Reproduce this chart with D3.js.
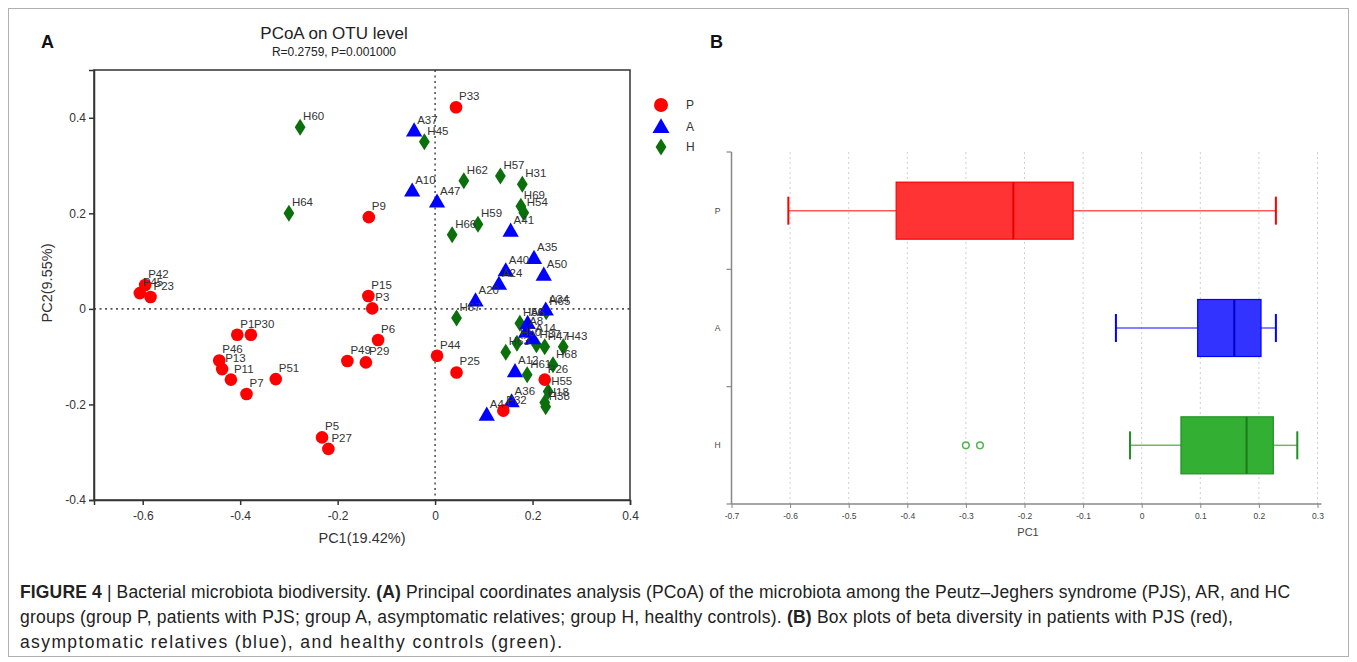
<!DOCTYPE html>
<html><head><meta charset="utf-8">
<script src="https://cdn.jsdelivr.net/npm/d3@7"></script>
<style>body{margin:0;background:#fff}svg{display:block;font-family:"Liberation Sans",Arial,sans-serif}</style>
</head><body>
<svg id="c" width="1357" height="662"></svg>
<script>
// ---------- Panel A data (PCoA) ----------
const pLabels = ["P33","P9","P42","P45","P23","P15","P3","P1","P30","P46","P13","P11","P7","P51","P5","P27","P49","P29","P6","P44","P25","P26","P32"];
const pX = [0.043,-0.136,-0.595,-0.606,-0.584,-0.137,-0.129,-0.406,-0.378,-0.443,-0.437,-0.419,-0.387,-0.327,-0.232,-0.219,-0.180,-0.142,-0.117,0.004,0.044,0.225,0.140];
const pY = [0.422,0.192,0.050,0.033,0.025,0.027,0.001,-0.054,-0.054,-0.108,-0.126,-0.148,-0.178,-0.147,-0.269,-0.293,-0.109,-0.112,-0.065,-0.098,-0.133,-0.148,-0.213];

const aLabels = ["A37","A10","A47","A41","A35","A40","A50","A24","A20","A34","A6","A8","A14","A12","A36","A44"];
const aX = [-0.043,-0.047,0.004,0.155,0.203,0.145,0.223,0.131,0.083,0.227,0.190,0.187,0.200,0.164,0.157,0.106];
const aY = [0.373,0.247,0.224,0.163,0.106,0.080,0.071,0.052,0.017,-0.002,-0.030,-0.048,-0.062,-0.131,-0.194,-0.222];

const hLabels = ["H60","H64","H45","H62","H57","H31","H69","H54","H59","H66","H67","H65","H56","H63","H50","H37","H47","H43","H68","H61","H55","H18","H38"];
const hX = [-0.277,-0.300,-0.022,0.059,0.134,0.179,0.176,0.182,0.088,0.035,0.044,0.228,0.174,0.145,0.168,0.208,0.225,0.263,0.242,0.189,0.232,0.225,0.227];
const hY = [0.380,0.200,0.350,0.268,0.278,0.261,0.215,0.201,0.177,0.155,-0.019,-0.006,-0.030,-0.091,-0.072,-0.075,-0.079,-0.079,-0.117,-0.138,-0.173,-0.196,-0.205];

const xTicksA = [-0.6,-0.4,-0.2,0,0.2,0.4];
const yTicksA = [-0.4,-0.2,0,0.2,0.4];

// ---------- Panel B data (box plots of PC1) ----------
const groups = ["P","A","H"];
const bMin = [-0.603,-0.044,-0.020];
const bQ1  = [-0.419,0.0955,0.067];
const bMed = [-0.219,0.158,0.179];
const bQ3  = [-0.117,0.2036,0.2246];
const bMax = [0.229,0.229,0.2655];
const hOutliers = [-0.300,-0.276];
const xTicksB = [-0.7,-0.6,-0.5,-0.4,-0.3,-0.2,-0.1,0,0.1,0.2,0.3];

const fmt = d => d===0 ? "0" : d3.format(".1f")(d).replace("\u2212","-");

const svg = d3.select("#c");

// figure border
svg.append("rect").attr("x",8.5).attr("y",8.5).attr("width",1340).attr("height",648)
  .attr("fill","none").attr("stroke","#b0b0b0").attr("stroke-width",1);

// ================= Panel A =================
const xA = d3.scaleLinear().domain([-0.7,0.4]).range([94,630]);
const yA = d3.scaleLinear().domain([-0.4,0.5]).range([500,70]);
const gA = svg.append("g");

gA.append("text").attr("x",41).attr("y",48).attr("font-size",18).attr("font-weight","bold").attr("fill","#111").text("A");
gA.append("text").attr("x",334).attr("y",39).attr("text-anchor","middle").attr("font-size",17).attr("fill","#222").text("PCoA on OTU level");
gA.append("text").attr("x",334).attr("y",56).attr("text-anchor","middle").attr("font-size",12).attr("fill","#222").text("R=0.2759, P=0.001000");

// zero lines
gA.append("line").attr("x1",xA(-0.7)).attr("x2",xA(0.4)).attr("y1",yA(0)).attr("y2",yA(0))
  .attr("stroke","#555").attr("stroke-width",1.6).attr("stroke-dasharray","2,3.5");
gA.append("line").attr("x1",xA(0)).attr("x2",xA(0)).attr("y1",yA(0.5)).attr("y2",yA(-0.4))
  .attr("stroke","#555").attr("stroke-width",1.6).attr("stroke-dasharray","2,3.5");

// frame
gA.append("rect").attr("x",94).attr("y",70).attr("width",536).attr("height",430)
  .attr("fill","none").attr("stroke","#333").attr("stroke-width",1.5);

const axB = gA.append("g").attr("transform","translate(0,500)")
  .call(d3.axisBottom(xA).tickValues(xTicksA).tickSize(5).tickFormat(fmt));
const axL = gA.append("g").attr("transform","translate(94,0)")
  .call(d3.axisLeft(yA).tickValues(yTicksA).tickSize(5).tickFormat(fmt));
[axB,axL].forEach(a=>{
  a.select(".domain").attr("stroke","#333").attr("stroke-width",1.5);
  a.selectAll(".tick line").attr("stroke","#333").attr("stroke-width",1.5);
  a.selectAll("text").attr("font-size",12).attr("fill","#333").attr("font-family","Liberation Sans, Arial, sans-serif");
});
axB.selectAll("text").attr("dy","1.0em");

gA.append("text").attr("x",362).attr("y",543).attr("text-anchor","middle").attr("font-size",14.5).attr("fill","#333").text("PC1(19.42%)");
gA.append("text").attr("transform","translate(52,283) rotate(-90)").attr("text-anchor","middle").attr("font-size",14.5).attr("fill","#333").text("PC2(9.55%)");

const colP = "#ff0000", colA = "#0000ff", colH = "#0b700b";
const tri = d3.symbol().type(d3.symbolTriangle).size(115);
const diamondPath = "M0,-8.5L5.4,0L0,8.5L-5.4,0Z";

const pData = pLabels.map((l,i)=>({l,x:pX[i],y:pY[i]}));
const aData = aLabels.map((l,i)=>({l,x:aX[i],y:aY[i]}));
const hData = hLabels.map((l,i)=>({l,x:hX[i],y:hY[i]}));

const marks = gA.append("g");
marks.selectAll("path.h").data(hData).join("path").attr("class","h")
  .attr("d",diamondPath).attr("fill",colH)
  .attr("transform",d=>`translate(${xA(d.x)},${yA(d.y)})`);
marks.selectAll("path.a").data(aData).join("path").attr("class","a")
  .attr("d",tri).attr("fill",colA)
  .attr("transform",d=>`translate(${xA(d.x)},${yA(d.y)+1})`);
marks.selectAll("circle.p").data(pData).join("circle").attr("class","p")
  .attr("cx",d=>xA(d.x)).attr("cy",d=>yA(d.y)).attr("r",6.3).attr("fill",colP);

const labs = gA.append("g").attr("font-size",11.5).attr("fill","#333");
labs.selectAll("text").data([...pData,...aData,...hData]).join("text")
  .attr("x",d=>xA(d.x)+3).attr("y",d=>yA(d.y)-7).text(d=>d.l);

// legend
const lg = gA.append("g");
lg.append("circle").attr("cx",661).attr("cy",105).attr("r",7).attr("fill",colP);
lg.append("path").attr("d",d3.symbol().type(d3.symbolTriangle).size(125)).attr("fill",colA).attr("transform","translate(661,128)");
lg.append("path").attr("d",diamondPath).attr("fill",colH).attr("transform","translate(661,147)");
[["P",105],["A",127],["H",147]].forEach(([t,y])=>{
  lg.append("text").attr("x",686).attr("y",y+4).attr("font-size",12).attr("fill","#333").text(t);
});

// ================= Panel B =================
const xB = d3.scaleLinear().domain([-0.7,0.3]).range([731.5,1317.5]);
const yB = d3.scaleBand().domain(groups).range([152,504]);
const gB = svg.append("g");
gB.append("text").attr("x",710).attr("y",48).attr("font-size",18).attr("font-weight","bold").attr("fill","#111").text("B");

// grid
gB.selectAll("line.grid").data(xTicksB.slice(1)).join("line").attr("class","grid")
  .attr("x1",d=>xB(d)).attr("x2",d=>xB(d)).attr("y1",152).attr("y2",504)
  .attr("stroke","#cfcfcf").attr("stroke-width",1).attr("stroke-dasharray","2,3");

const axBx = gB.append("g").attr("transform","translate(0,504)")
  .call(d3.axisBottom(xB).tickValues(xTicksB).tickSize(4).tickFormat(fmt));
axBx.select(".domain").attr("d","M731.5,0H1321.5").attr("stroke","#888").attr("stroke-width",1.5);
axBx.selectAll(".tick line").attr("stroke","#888");
axBx.selectAll("text").attr("font-size",8.5).attr("fill","#444").attr("font-family","Liberation Sans, Arial, sans-serif").attr("dy","0.9em");

const axBy = gB.append("g").attr("transform","translate(731.5,0)");
axBy.append("line").attr("x1",0).attr("x2",0).attr("y1",152).attr("y2",504).attr("stroke","#888").attr("stroke-width",1.5);
const bounds = [152, ...groups.map(g=>yB(g)+yB.bandwidth())];
axBy.selectAll("line.t").data(bounds).join("line").attr("class","t")
  .attr("x1",-5).attr("x2",0).attr("y1",d=>d).attr("y2",d=>d).attr("stroke","#888").attr("stroke-width",1.2);
axBy.selectAll("text").data(groups).join("text")
  .attr("x",-14).attr("y",d=>yB(d)+yB.bandwidth()/2+3).attr("text-anchor","middle")
  .attr("font-size",8.5).attr("fill","#444").text(d=>d);

gB.append("text").attr("x",1028).attr("y",536).attr("text-anchor","middle").attr("font-size",11).attr("fill","#444").text("PC1");

const fills = ["#ff3333","#3333ff","#33b033"];
const strokes = ["#ff0000","#0000ff","#218f21"];
const medCol = ["#e60000","#0000cc","#1a7a1a"];
const boxH = 57, capH = 28;
groups.forEach((g,i)=>{
  const cy = yB(g)+yB.bandwidth()/2;
  const bg = gB.append("g");
  bg.append("line").attr("x1",xB(bMin[i])).attr("x2",xB(bQ1[i])).attr("y1",cy).attr("y2",cy).attr("stroke",strokes[i]).attr("stroke-opacity",0.65).attr("stroke-width",1.5);
  bg.append("line").attr("x1",xB(bQ3[i])).attr("x2",xB(bMax[i])).attr("y1",cy).attr("y2",cy).attr("stroke",strokes[i]).attr("stroke-opacity",0.65).attr("stroke-width",1.5);
  [bMin[i],bMax[i]].forEach(v=>{
    bg.append("line").attr("x1",xB(v)).attr("x2",xB(v)).attr("y1",cy-capH/2).attr("y2",cy+capH/2).attr("stroke",strokes[i]).attr("stroke-width",2);
  });
  bg.append("rect").attr("x",xB(bQ1[i])).attr("y",cy-boxH/2).attr("width",xB(bQ3[i])-xB(bQ1[i])).attr("height",boxH)
    .attr("fill",fills[i]).attr("stroke",strokes[i]).attr("stroke-width",1.2);
  bg.append("line").attr("x1",xB(bMed[i])).attr("x2",xB(bMed[i])).attr("y1",cy-boxH/2).attr("y2",cy+boxH/2).attr("stroke",medCol[i]).attr("stroke-width",2);
});
const hy = yB("H")+yB.bandwidth()/2;
gB.selectAll("circle.o").data(hOutliers).join("circle").attr("class","o")
  .attr("cx",d=>xB(d)).attr("cy",hy).attr("r",3.3).attr("fill","none").attr("stroke","#4cb84c").attr("stroke-width",1.5);

// ================= Caption =================
const cap = svg.append("g").attr("font-size",17.5).attr("fill","#222");
const lines = [
  {y:598, w:1270, parts:[["FIGURE 4","bold"],[" | Bacterial microbiota biodiversity. ",""],["(A)","bold"],[" Principal coordinates analysis (PCoA) of the microbiota among the Peutz–Jeghers syndrome (PJS), AR, and HC",""]]},
  {y:623, w:1213, parts:[["groups (group P, patients with PJS; group A, asymptomatic relatives; group H, healthy controls). ",""],["(B)","bold"],[" Box plots of beta diversity in patients with PJS (red),",""]]},
  {y:648, w:542, parts:[["asymptomatic relatives (blue), and healthy controls (green).",""]]}
];
lines.forEach(L=>{
  const g = cap.append("g");
  const t = g.append("text").attr("x",0).attr("y",0).attr("xml:space","preserve")
    .attr("textLength",null);
  L.parts.forEach(([s,b])=>{ const ts=t.append("tspan").text(s); if(b) ts.attr("font-weight","bold"); });
  const w = t.node().getComputedTextLength();
  const k = L.w / w;
  // condense glyphs partially and spread the rest via letter spacing
  const gs = Math.min(1, k);
  const n = t.text().length;
  if (k > 1) t.attr("letter-spacing", ((L.w - w) / Math.max(1, n - 1)).toFixed(3));
  g.attr("transform",`translate(20,${L.y}) scale(${gs},1)`);
});
</script>
</body></html>
